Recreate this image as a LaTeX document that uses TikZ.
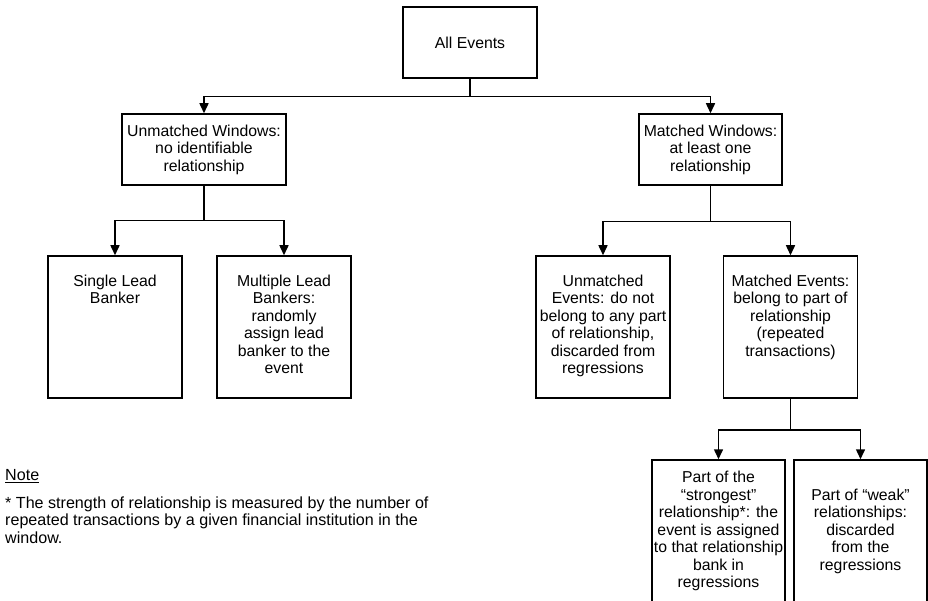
\documentclass[tikz,border=0pt]{standalone}
\usepackage{fontspec}
\setmainfont{Liberation Sans}
\usetikzlibrary{arrows.meta}
\newcommand{\toptext}[1]{\parbox[c][142pt][t]{130pt}{\centering\fontsize{15.8}{17.5}\selectfont\vspace*{19pt}#1}}
\tikzstyle{box}=[draw=black,line width=1.5pt,inner sep=2pt,align=center,font=\fontsize{15.8}{17.5}\selectfont]
\tikzstyle{tall}=[box,minimum width=134pt,minimum height=142pt,inner sep=0pt]
\tikzstyle{link}=[line width=1.5pt,-{Triangle[length=10pt,width=9pt]}]

\begin{document}
\begin{tikzpicture}[x=1pt,y=-1pt]
  \useasboundingbox (0,0) rectangle (928,601);
  \clip (0,0) rectangle (928,601);

  \node[box,minimum width=134pt,minimum height=71pt] (all) at (470,42.5) {All Events};
  \node[box,minimum width=164pt,minimum height=71pt] (uw) at (204,149.5) {Unmatched Windows:\\no identifiable\\relationship};
  \node[box,minimum width=143pt,minimum height=71pt] (mw) at (710.5,149.5) {Matched Windows:\\at least one\\relationship};

  \node[tall] (sl) at (115,327) {\toptext{Single Lead\\Banker}};
  \node[tall] (ml) at (284,327) {\toptext{Multiple Lead\\Bankers:\\randomly\\assign lead\\banker to the\\event}};
  \node[tall] (ue) at (603,327) {\toptext{Unmatched\\Events: do not\\belong to any part\\of relationship,\\discarded from\\regressions}};
  \node[tall] (me) at (790.5,327) {\toptext{Matched Events:\\belong to part of\\relationship\\(repeated\\transactions)}};

  \node[box,minimum width=133pt,minimum height=142pt,inner sep=1pt] (st) at (718.5,531) {Part of the\\“strongest”\\relationship*: the\\event is assigned\\to that relationship\\bank in\\regressions};
  \node[box,minimum width=133pt,minimum height=142pt,inner sep=1pt] (wk) at (860.5,531) {Part of “weak”\\relationships:\\discarded\\from the\\regressions};

  \draw[link] (all.south) -- ++(0,18) -| (uw.north);
  \draw[link] (all.south) -- ++(0,18) -| (mw.north);

  \draw[link] (uw.south) -- ++(0,35) -| (sl.north);
  \draw[link] (uw.south) -- ++(0,35) -| (ml.north);

  \draw[link] (mw.south) -- ++(0,36) -| (ue.north);
  \draw[link] (mw.south) -- ++(0,36) -| (me.north);

  \draw[link] (me.south) -- ++(0,31) -| (st.north);
  \draw[link] (me.south) -- ++(0,31) -| (wk.north);

  \node[anchor=north west,inner sep=0pt,align=left,font=\fontsize{16.1}{17.6}\selectfont] (note) at (5,469.5) {\underline{Note}\\[10pt]* The strength of relationship is measured by the number of\\repeated transactions by a given financial institution in the\\window.};
\end{tikzpicture}
\end{document}
